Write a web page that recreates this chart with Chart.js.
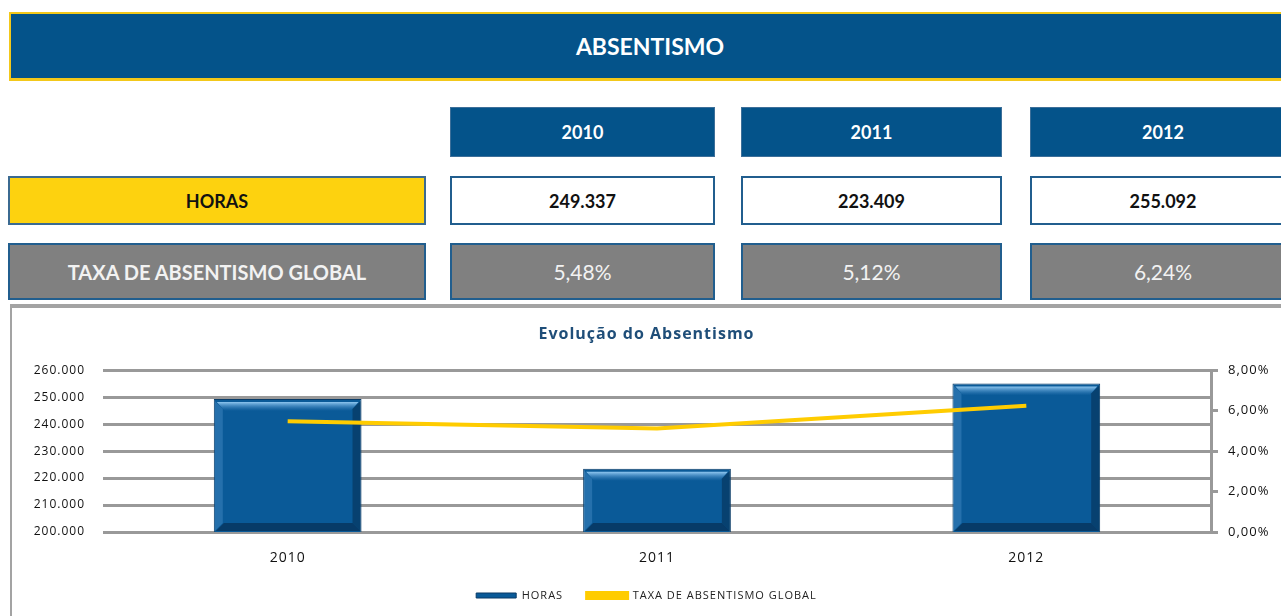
<!DOCTYPE html>
<html>
<head>
<meta charset="utf-8">
<script src="https://cdn.jsdelivr.net/npm/chart.js@4/dist/chart.umd.min.js"></script>
<style>
  html, body { margin: 0; padding: 0; background: #fff; overflow: hidden; }
  body { width: 1281px; height: 616px; position: relative; font-family: Lato, "Open Sans", sans-serif; }
  .box { position: absolute; box-sizing: border-box; display: flex; align-items: center; justify-content: center; }
  .header { left: 9px; top: 12px; width: 1282px; height: 69px; background: #04538A; border: 2px solid #F3C81A; border-bottom-width: 3px; color: #fff; font-weight: bold; font-size: 23px; }
  .year { top: 107px; height: 50px; background: #04538A; color: #fff; font-weight: bold; font-size: 18px; border: 1px solid #3d6f99; }
  .horas { top: 176px; height: 49px; font-weight: bold; font-size: 18px; color: #111; }
  .taxa { top: 243px; height: 57px; background: #808080; color: #f2f2f2; font-size: 21px; border: 2px solid #215E8E; }
  .taxa.lbl { font-weight: bold; font-size: 20px; }
  .lbl-horas { background: #FDD20F; border: 2px solid #3b6a91; }
  .val-horas { background: #fff; border: 2px solid #215E8E; }
  .chart-wrap { position: absolute; left: 10px; top: 304px; width: 1290px; height: 320px; border-top: 4px solid #a3a3a3; border-left: 2px solid #a3a3a3; }
  .chart-box { position: absolute; left: 0; top: 0; width: 1269px; height: 308px; }
</style>
</head>
<body>
<div class="box header">ABSENTISMO</div>
<div class="box lbl-horas horas" style="left:8px;width:418px;">HORAS</div>
<div class="box taxa lbl" style="left:8px;width:418px;">TAXA DE ABSENTISMO GLOBAL</div>
<div id="cols"></div>
<div class="chart-wrap"><div class="chart-box"><canvas id="grafico"></canvas></div></div>
<script>
// Dados
const anos = ['2010', '2011', '2012']
const horas = [249337, 223409, 255092]
const taxaAbsentismo = [5.48, 5.12, 6.24]   // em %
const ticksHoras = [200000, 210000, 220000, 230000, 240000, 250000, 260000]
const ticksTaxa = [0, 2, 4, 6, 8]

// posicoes das colunas da tabela (esquerda, largura)
const colunas = [[450, 265], [741, 261], [1030, 266]]

const fmtMilhar = n => String(n).replace(/\B(?=(\d{3})+(?!\d))/g, '.')
const fmtPct = v => v.toFixed(2).replace('.', ',') + '%'

// Tabela
const cols = document.getElementById('cols')
anos.forEach((ano, i) => {
  const [left, width] = colunas[i]
  cols.insertAdjacentHTML('beforeend',
    `<div class="box year" style="left:${left}px;width:${width}px;">${ano}</div>` +
    `<div class="box horas val-horas" style="left:${left}px;width:${width}px;">${fmtMilhar(horas[i])}</div>` +
    `<div class="box taxa" style="left:${left}px;width:${width}px;">${fmtPct(taxaAbsentismo[i])}</div>`)
})

// texto do grafico um pouco espacado (como no Excel)
const espacamento = {
  id: 'espacamento',
  beforeLayout(chart) { chart.ctx.letterSpacing = '1px' },
  beforeDraw(chart) { chart.ctx.letterSpacing = '1px' }
}

// Efeito de relevo nas barras
const bevelPlugin = {
  id: 'bevel',
  afterDatasetDraw(chart, args) {
    if (args.index !== 0) return
    const ctx = chart.ctx
    const area = chart.chartArea
    args.meta.data.forEach(bar => {
      const p = bar.getProps(['x', 'y', 'base', 'width'], true)
      const y = p.y
      const base = Math.min(p.base, area.bottom)
      const l = p.x - p.width / 2, r = p.x + p.width / 2
      ctx.save()
      // faixa clara no topo
      const g = ctx.createLinearGradient(0, y + 3, 0, y + 12)
      g.addColorStop(0, 'rgba(150,205,245,0.95)')
      g.addColorStop(1, 'rgba(70,140,200,0.0)')
      ctx.fillStyle = g
      ctx.beginPath()
      ctx.moveTo(l + 3, y + 3); ctx.lineTo(r - 3, y + 3); ctx.lineTo(r - 11, y + 12); ctx.lineTo(l + 11, y + 12)
      ctx.closePath(); ctx.fill()
      // sombra em baixo e a direita
      ctx.fillStyle = 'rgba(5,35,65,0.55)'
      ctx.beginPath()
      ctx.moveTo(l + 2, base - 1); ctx.lineTo(r - 1, base - 1); ctx.lineTo(r - 9, base - 9); ctx.lineTo(l + 10, base - 9)
      ctx.closePath(); ctx.fill()
      ctx.fillStyle = 'rgba(5,35,65,0.45)'
      ctx.beginPath()
      ctx.moveTo(r - 1, y + 2); ctx.lineTo(r - 1, base - 1); ctx.lineTo(r - 9, base - 9); ctx.lineTo(r - 9, y + 10)
      ctx.closePath(); ctx.fill()
      ctx.fillStyle = 'rgba(120,180,230,0.25)'
      ctx.beginPath()
      ctx.moveTo(l + 1, y + 2); ctx.lineTo(l + 1, base - 1); ctx.lineTo(l + 9, base - 9); ctx.lineTo(l + 9, y + 10)
      ctx.closePath(); ctx.fill()
      ctx.restore()
    })
  }
}

new Chart(document.getElementById('grafico'), {
  type: 'bar',
  data: {
    labels: anos,
    datasets: [{
      label: 'HORAS',
      data: horas,
      backgroundColor: '#0A5A98',
      borderColor: '#0A3B66',
      borderWidth: 1,
      barPercentage: 0.8,
      categoryPercentage: 0.5,
      yAxisID: 'y',
      order: 1
    }, {
      type: 'line',
      label: 'TAXA DE ABSENTISMO GLOBAL',
      data: taxaAbsentismo,
      borderColor: '#FFCC00',
      backgroundColor: '#FFCC00',
      borderWidth: 4,
      pointRadius: 0,
      tension: 0,
      yAxisID: 'y1',
      order: 0
    }]
  },
  options: {
    responsive: true,
    maintainAspectRatio: false,
    animation: false,
    layout: { padding: { top: 17, bottom: 5, left: 0, right: 0 } },
    plugins: {
      title: {
        display: true,
        text: 'Evolução do Absentismo',
        color: '#1F4E79',
        font: { family: 'Open Sans', size: 16, weight: 'bold' },
        padding: { top: 0, bottom: 26 }
      },
      legend: {
        position: 'bottom',
        labels: {
          color: '#222',
          font: { family: 'Open Sans', size: 11 },
          boxWidth: 40,
          boxHeight: 5,
          padding: 24,
          sort: (a, b) => a.datasetIndex - b.datasetIndex
        }
      },
      tooltip: { enabled: false }
    },
    scales: {
      x: {
        grid: { display: false, drawTicks: false },
        border: { display: false },
        ticks: { color: '#111', font: { family: 'Open Sans', size: 14 }, padding: 18 },
        afterFit: s => { s.height = 34 }
      },
      y: {
        position: 'left',
        min: 200000,
        max: 260000,
        afterBuildTicks: s => { s.ticks = ticksHoras.map(v => ({ value: v })) },
        ticks: {
          color: '#111',
          font: { family: 'Open Sans', size: 12 },
          padding: 18,
          callback: v => fmtMilhar(v)
        },
        grid: { color: '#999', lineWidth: 3, drawTicks: false },
        border: { display: false },
        afterFit: s => { s.width = 91 }
      },
      y1: {
        position: 'right',
        min: 0,
        max: 8,
        afterBuildTicks: s => { s.ticks = ticksTaxa.map(v => ({ value: v })) },
        ticks: {
          color: '#111',
          font: { family: 'Open Sans', size: 13 },
          padding: 10,
          callback: v => fmtPct(v)
        },
        grid: { drawOnChartArea: false, color: '#999', lineWidth: 3, tickLength: 7 },
        border: { display: true, color: '#999', width: 3 },
        afterFit: s => { s.width = 70 }
      }
    }
  },
  plugins: [espacamento, bevelPlugin]
})
</script>
</body>
</html>
